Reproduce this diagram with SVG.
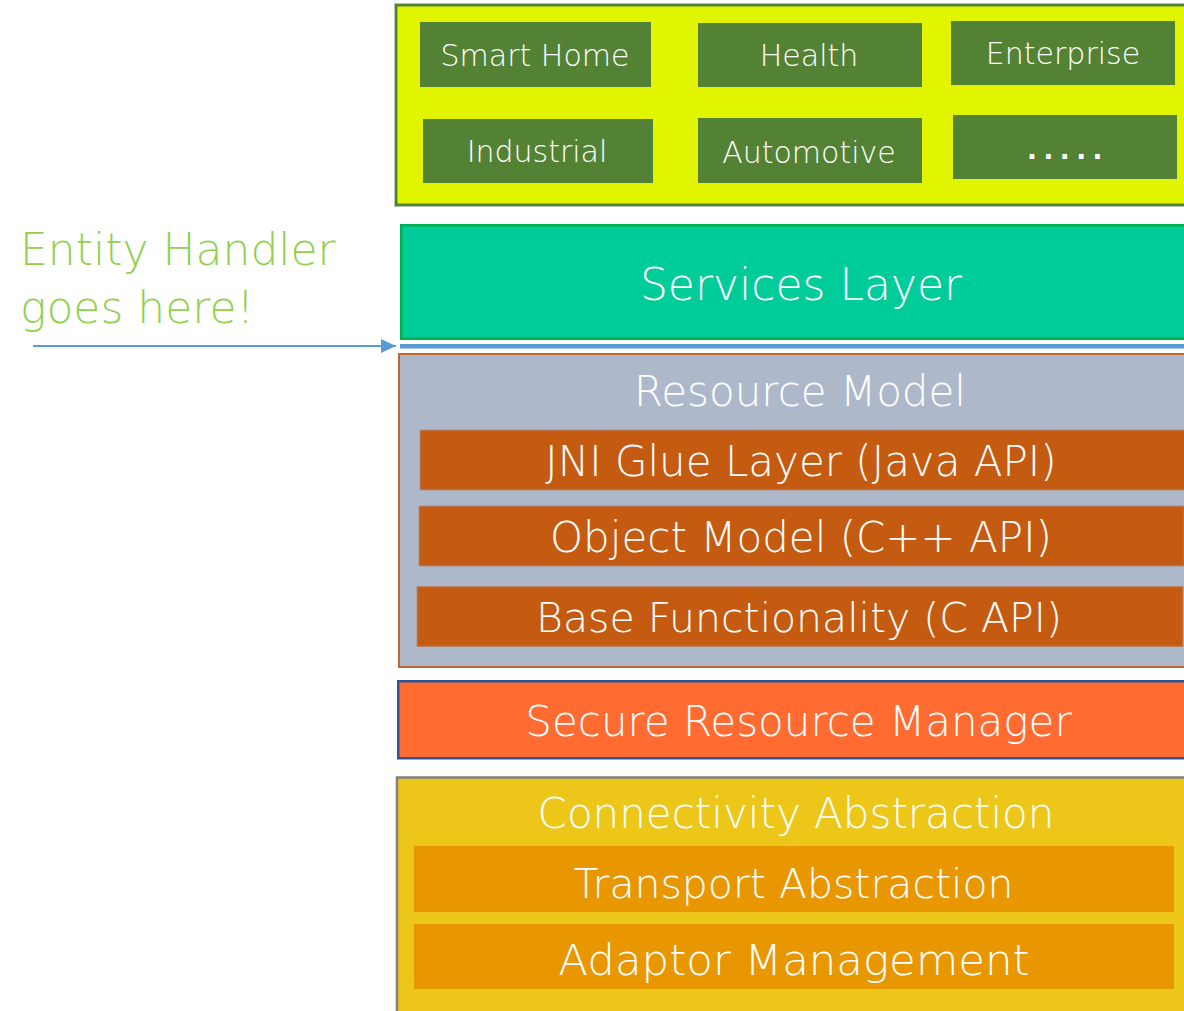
<svg xmlns="http://www.w3.org/2000/svg" width="1184" height="1011" viewBox="0 0 1184 1011">
<style>
text{font-family:"DejaVu Sans","Liberation Sans",sans-serif;font-weight:300;fill:#ffffff;text-anchor:middle}
.app{fill:#548235}
.sm{font-size:30px}
.big{font-size:42px}
.dots{font-size:26px;font-weight:700;letter-spacing:6.5px}
.green{fill:#92d050;text-anchor:start;font-size:44px}
.brown{fill:#c55a11;stroke:#b86d40;stroke-width:1.5}
.orng{fill:#e99700}
</style>
<defs>
<marker id="ah" markerWidth="15" markerHeight="14" refX="15" refY="7" orient="auto" markerUnits="userSpaceOnUse">
<polygon points="0,0 15,7 0,14" fill="#5b9bd5"/>
</marker>
</defs>
<rect width="1184" height="1011" fill="#ffffff"/>

<g id="applications">
<rect x="394.5" y="3.5" width="800" height="203" fill="none" stroke="#b3c7aa" stroke-width="1"/>
<rect x="396.25" y="5.25" width="800" height="199.5" fill="#e1f500" stroke="#548235" stroke-width="2.5"/>
<g id="smart-home"><rect class="app" x="420" y="22" width="231" height="65"/><text class="sm" x="535" y="66">Smart Home</text></g>
<g id="health"><rect class="app" x="698" y="23" width="224" height="64"/><text class="sm" x="809" y="66">Health</text></g>
<g id="enterprise"><rect class="app" x="951" y="21" width="224" height="64"/><text class="sm" x="1063" y="64">Enterprise</text></g>
<g id="industrial"><rect class="app" x="423" y="119" width="230" height="64"/><text class="sm" x="537" y="162">Industrial</text></g>
<g id="automotive"><rect class="app" x="698" y="118" width="224" height="65"/><text class="sm" x="809" y="163">Automotive</text></g>
<g id="more"><rect class="app" x="953" y="115" width="224" height="64"/><text class="dots" x="1068" y="159">.....</text></g>
</g>

<g id="services-layer">
<rect x="401.25" y="225.25" width="800" height="113.5" fill="#00cc99" stroke="#00b050" stroke-width="2.5"/>
<text x="801" y="300" font-size="44">Services Layer</text>
</g>

<g id="entity-handler-label">
<text class="green" x="20" y="265">Entity Handler</text>
<text class="green" x="20" y="323">goes here!</text>
</g>

<g id="entity-handler-bar">
<rect x="400" y="344" width="784" height="4.5" fill="#5b9bd5"/>
</g>

<g id="resource-model">
<rect x="399" y="354" width="800" height="313" fill="#adb9ca" stroke="#c0682f" stroke-width="2"/>
<text class="big" x="800" y="406">Resource Model</text>
<g id="jni"><rect class="brown" x="420.5" y="430.5" width="800" height="59"/><text class="big" x="801" y="476">JNI Glue Layer (Java API)</text></g>
<g id="object-model"><rect class="brown" x="419.5" y="506.5" width="764" height="59"/><text class="big" x="801" y="552">Object Model (C++ API)</text></g>
<g id="base-functionality"><rect class="brown" x="417.5" y="587" width="765" height="59"/><text x="799" y="632" font-size="41">Base Functionality (C API)</text></g>
</g>

<g id="secure-resource-manager">
<rect x="398.25" y="681.25" width="800" height="77" fill="#ff6b31" stroke="#2f5597" stroke-width="2.5"/>
<text class="big" x="798.5" y="736">Secure Resource Manager</text>
</g>

<g id="connectivity-abstraction">
<rect x="397" y="777.5" width="800" height="240" fill="#ecc619" stroke="#808080" stroke-width="2.5"/>
<text class="big" x="796" y="828">Connectivity Abstraction</text>
<g id="transport"><rect class="orng" x="414" y="846" width="760" height="66"/><text x="793.5" y="898" font-size="41">Transport Abstraction</text></g>
<g id="adaptor"><rect class="orng" x="414" y="924" width="760" height="65"/><text x="794" y="975" font-size="43.5">Adaptor Management</text></g>
</g>

<g id="connectors">
<line x1="33" y1="346" x2="396" y2="346" stroke="#5b9bd5" stroke-width="2" marker-end="url(#ah)"/>
</g>
</svg>
